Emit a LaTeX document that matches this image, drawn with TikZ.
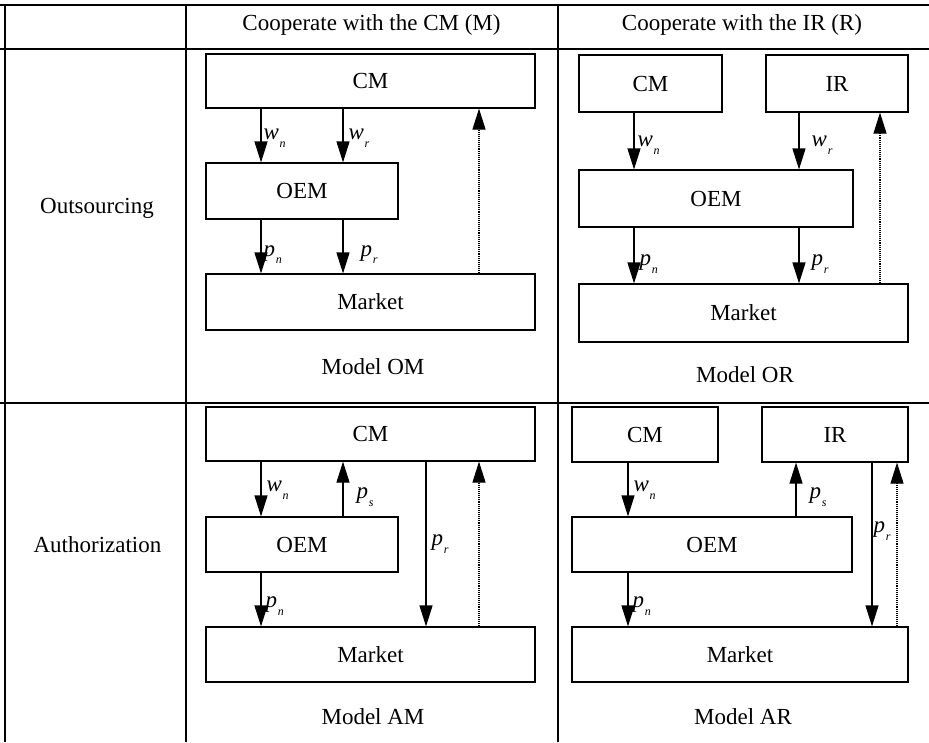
\documentclass[tikz,border=0pt]{standalone}
\usepackage{fontspec}
\setmainfont{Liberation Serif}
\usetikzlibrary{arrows.meta}

% italic symbol with a small lowered italic subscript
\newcommand\symsub[2]{\textit{#1}\kern0.8pt\raisebox{-0.75ex}{\fontsize{12}{12}\selectfont\textit{#2}}}

\tikzset{
  x=1pt, y=-1pt,
  txt/.style={font=\fontsize{23}{27}\selectfont, inner sep=0pt},
  box/.style={txt, draw, line width=1.2pt, minimum width=#1, inner sep=0pt},
  grid/.style={line width=2pt},
  tip/.style={-{Triangle[width=13pt,length=21pt]}},
  arr/.style={line width=1.2pt, tip},
  fb/.style={line width=1.1pt, densely dotted, tip},
  lbl/.style={font=\fontsize{23}{27}\selectfont, inner sep=0pt, anchor=west}
}

\begin{document}
\begin{tikzpicture}
\useasboundingbox (0,0) rectangle (929,742);

% table rules
\draw[grid] (0,5) -- (929,5);
\draw[grid] (0,49) -- (929,49);
\draw[grid] (0,403) -- (929,403);
\draw[grid] (5,5) -- (5,742);
\draw[grid] (186,5) -- (186,742);
\draw[grid] (558,5) -- (558,742);

% headers
\node[txt] (hM) at (371.5,25) {Cooperate with the CM (M)};
\node[txt] (hR) at (742,25) {Cooperate with the IR (R)};
\node[txt] (rowO) at (97,208) {Outsourcing};
\node[txt] (rowA) at (97.5,545) {Authorization};

% ---------- Model OM ----------
\node[box=329pt, minimum height=54pt] (omCM) at (370.5,81) {CM};
\node[box=192pt, minimum height=56pt] (omOEM) at (302,191) {OEM};
\node[box=329pt, minimum height=56pt] (omMK) at (370.5,302) {Market};
\node[txt] (omCap) at (373,367) {Model OM};
\coordinate (omX1) at (261,0);
\coordinate (omX2) at (343,0);
\coordinate (omX3) at (479,0);
\draw[arr] (omCM.south -| omX1) -- (omOEM.north -| omX1)
  node[lbl, pos=.55, xshift=2pt] (omWn) {\symsub{w}{n}};
\draw[arr] (omCM.south -| omX2) -- (omOEM.north -| omX2)
  node[lbl, pos=.55, xshift=5pt] (omWr) {\symsub{w}{r}};
\draw[arr] (omOEM.south -| omX1) -- (omMK.north -| omX1)
  node[lbl, pos=.65, xshift=2pt] (omPn) {\symsub{p}{n}};
\draw[arr] (omOEM.south -| omX2) -- (omMK.north -| omX2)
  node[lbl, pos=.65, xshift=17pt] (omPr) {\symsub{p}{r}};
\draw[fb] (omMK.north -| omX3) -- (omCM.south -| omX3);

% ---------- Model OR ----------
\node[box=143pt, minimum height=57pt] (orCM) at (650.5,83.5) {CM};
\node[box=142pt, minimum height=57pt] (orIR) at (837,83.5) {IR};
\node[box=274pt, minimum height=57pt] (orOEM) at (716,198.5) {OEM};
\node[box=329pt, minimum height=58pt] (orMK) at (743.5,313) {Market};
\node[txt] (orCap) at (745,375) {Model OR};
\coordinate (orX1) at (634,0);
\coordinate (orX2) at (799,0);
\coordinate (orX3) at (880,0);
\draw[arr] (orCM.south -| orX1) -- (orOEM.north -| orX1)
  node[lbl, pos=.58, xshift=3pt] (orWn) {\symsub{w}{n}};
\draw[arr] (orIR.south -| orX2) -- (orOEM.north -| orX2)
  node[lbl, pos=.58, xshift=12pt] (orWr) {\symsub{w}{r}};
\draw[arr] (orOEM.south -| orX1) -- (orMK.north -| orX1)
  node[lbl, pos=.65, xshift=5pt] (orPn) {\symsub{p}{n}};
\draw[arr] (orOEM.south -| orX2) -- (orMK.north -| orX2)
  node[lbl, pos=.65, xshift=12pt] (orPr) {\symsub{p}{r}};
\draw[fb] (orMK.north -| orX3) -- (orIR.south -| orX3);

% ---------- Model AM ----------
\node[box=329pt, minimum height=54pt] (amCM) at (370.5,434) {CM};
\node[box=192pt, minimum height=55pt] (amOEM) at (302,544.5) {OEM};
\node[box=329pt, minimum height=55pt] (amMK) at (370.5,654.5) {Market};
\node[txt] (amCap) at (373,717) {Model AM};
\coordinate (amX1) at (261,0);
\coordinate (amX2) at (343,0);
\coordinate (amX3) at (426,0);
\coordinate (amX4) at (479,0);
\draw[arr] (amCM.south -| amX1) -- (amOEM.north -| amX1)
  node[lbl, pos=.52, xshift=5pt] (amWn) {\symsub{w}{n}};
\draw[arr] (amOEM.north -| amX2) -- (amCM.south -| amX2)
  node[lbl, pos=.35, xshift=13pt] (amPs) {\symsub{p}{s}};
\draw[arr] (amOEM.south -| amX1) -- (amMK.north -| amX1)
  node[lbl, pos=.62, xshift=4pt] (amPn) {\symsub{p}{n}};
\draw[arr] (amCM.south -| amX3) -- (amMK.north -| amX3)
  node[lbl, pos=.5, xshift=5pt] (amPr) {\symsub{p}{r}};
\draw[fb] (amMK.north -| amX4) -- (amCM.south -| amX4);

% ---------- Model AR ----------
\node[box=146pt, minimum height=55pt] (arCM) at (645,434.5) {CM};
\node[box=146pt, minimum height=55pt] (arIR) at (835,434.5) {IR};
\node[box=280pt, minimum height=55pt] (arOEM) at (712,544.5) {OEM};
\node[box=336pt, minimum height=55pt] (arMK) at (740,654.5) {Market};
\node[txt] (arCap) at (743,717) {Model AR};
\coordinate (arX1) at (628,0);
\coordinate (arX2) at (796,0);
\coordinate (arX3) at (872,0);
\coordinate (arX4) at (897,0);
\draw[arr] (arCM.south -| arX1) -- (arOEM.north -| arX1)
  node[lbl, pos=.52, xshift=5pt] (arWn) {\symsub{w}{n}};
\draw[arr] (arOEM.north -| arX2) -- (arIR.south -| arX2)
  node[lbl, pos=.35, xshift=13pt] (arPs) {\symsub{p}{s}};
\draw[arr] (arOEM.south -| arX1) -- (arMK.north -| arX1)
  node[lbl, pos=.62, xshift=4pt] (arPn) {\symsub{p}{n}};
\draw[arr] (arIR.south -| arX3) -- (arMK.north -| arX3)
  node[lbl, pos=.42, xshift=1pt] (arPr) {\symsub{p}{r}};
\draw[fb] (arMK.north -| arX4) -- (arIR.south -| arX4);
\end{tikzpicture}
\end{document}
